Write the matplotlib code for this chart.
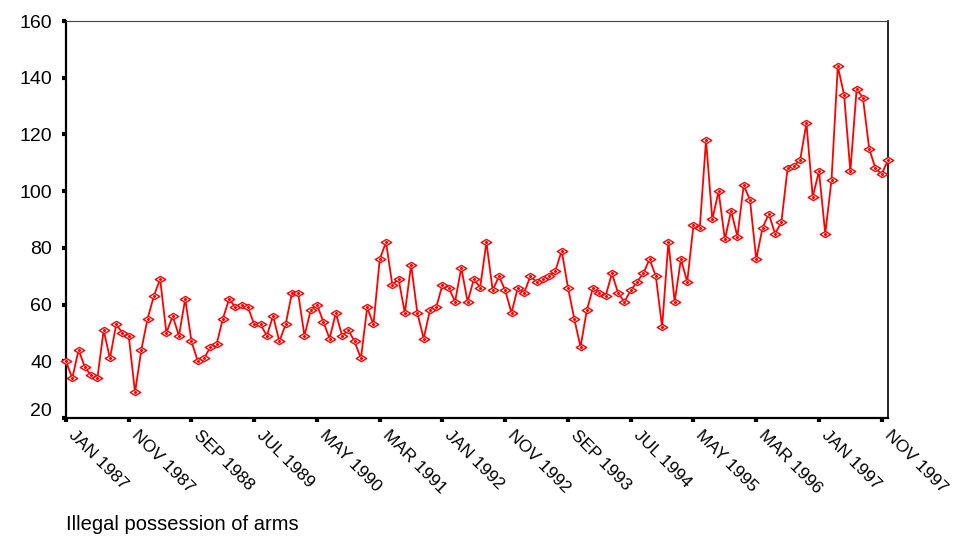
import matplotlib
matplotlib.use("Agg")
import matplotlib.pyplot as plt
import matplotlib.transforms as mtransforms
from matplotlib.path import Path
import numpy as np

plt.rcParams['font.family'] = ['Liberation Sans', 'DejaVu Sans']

# monthly counts, JAN 1987 .. DEC 1997
counts = [
    40, 34, 44, 38, 35, 34, 51, 41, 53, 50, 49, 29, 44, 55, 63, 69, 50, 56, 49, 62,
    47, 40, 41, 45, 46, 55, 62, 59, 60, 59, 53, 53, 49, 56, 47, 53, 64, 64, 49,
    58, 60, 54, 48, 57, 49, 51, 47, 41, 59, 53, 76, 82, 67, 69, 57, 74, 57, 48,
    58, 59, 67, 66, 61, 73, 61, 69, 66, 82, 65, 70, 65, 57, 66, 64, 70, 68, 69,
    70, 72, 79, 66, 55, 45, 58, 66, 64, 63, 71, 64, 61, 65, 68, 71, 76, 70, 52,
    82, 61, 76, 68, 88, 87, 118, 90, 100, 83, 93, 84, 102, 97, 76, 87, 92, 85, 89,
    108, 109, 111, 124, 98, 107, 85, 104, 144, 134, 107, 136, 133, 115, 108, 106, 111,
]
tick_labels = ["JAN 1987", "NOV 1987", "SEP 1988", "JUL 1989", "MAY 1990",
               "MAR 1991", "JAN 1992", "NOV 1992", "SEP 1993", "JUL 1994",
               "MAY 1995", "MAR 1996", "JAN 1997", "NOV 1997"]
y_ticks = [20, 40, 60, 80, 100, 120, 140, 160]
caption = "Illegal possession of arms"

x = np.arange(len(counts))

# flat diamond like the original
diamond = Path([(-1, 0), (0, 0.6), (1, 0), (0, -0.6), (-1, 0)],
               [Path.MOVETO, Path.LINETO, Path.LINETO, Path.LINETO, Path.CLOSEPOLY])

fig = plt.figure(figsize=(9.55, 5.39), dpi=100)
ax = fig.add_axes([66 / 955, 1 - 418 / 539, (888 - 66) / 955, (418 - 21) / 539])

ax.plot(x, counts, color="red", linewidth=1.3, marker=diamond, markersize=7.5,
        markerfacecolor="white", markeredgecolor="red", markeredgewidth=1.0,
        clip_on=False, zorder=3)
ax.plot(x, counts, linestyle="none", marker="o", markersize=1.2,
        color="red", clip_on=False, zorder=4)

ax.set_xlim(0, len(counts) - 1)
ax.set_ylim(20, 160)

ax.set_xticks(x[::10])
ax.set_xticklabels(tick_labels[:len(x[::10])], rotation=-45, ha="left", va="center",
                   rotation_mode="anchor", fontsize=12.5)
ax.set_yticks(y_ticks)
ax.set_yticklabels([str(v) for v in y_ticks], fontsize=14)

ax.tick_params(axis="x", direction="out", length=3, width=3, pad=8)
ax.tick_params(axis="y", direction="out", length=3, width=3, pad=7)

for lab in ax.get_xticklabels():
    lab.set_transform(lab.get_transform() +
                      mtransforms.ScaledTranslation(5 / 100, 0, fig.dpi_scale_trans))

# bottom label of y axis sits a bit higher in the original
lab = ax.get_yticklabels()[0]
lab.set_transform(lab.get_transform() +
                  mtransforms.ScaledTranslation(0, 8 / 100, fig.dpi_scale_trans))

for side in ["left", "bottom"]:
    ax.spines[side].set_linewidth(1.6)
    ax.spines[side].set_color("black")
ax.spines["right"].set_linewidth(1.2)
ax.spines["right"].set_color("black")
ax.spines["top"].set_linewidth(0.8)
ax.spines["top"].set_color("#444444")

fig.text(66 / 955, 1 - 525 / 539, caption, fontsize=14.5, va="center", ha="left")

fig.savefig("out.png", dpi=100)
